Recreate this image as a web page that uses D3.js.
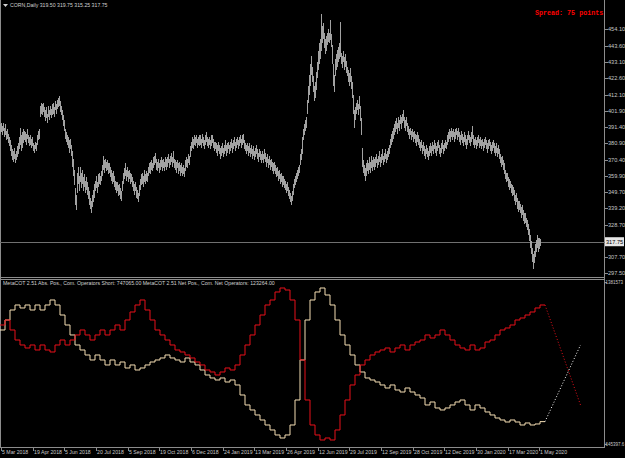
<!DOCTYPE html>
<html><head><meta charset="utf-8">
<script src="https://cdn.jsdelivr.net/npm/d3@7"></script>
<style>html,body{margin:0;padding:0;background:#000;overflow:hidden}svg{display:block}</style>
</head><body><svg id="c" width="625" height="458"></svg>
<script>
// ---- price bars (daily high / low), CORN Daily ----
const highs = [393,394,392,394,391,393,389,390,387,385,
383,380,377,376,378,374,376,379,381,385,
391,386,388,390,389,388,387,390,386,385,
386,384,385,381,380,382,381,386,389,390,
405,407,406,407,404,402,404,400,405,402,
405,403,406,407,404,408,406,409,410,411,
408,405,402,399,396,390,388,386,385,383,
384,380,376,371,364,352,348,362,366,360,
366,362,364,359,361,357,359,356,353,350,
346,344,348,351,355,357,360,356,361,362,
360,363,367,373,370,371,369,370,368,368,
366,364,362,363,360,357,356,356,354,355,
352,350,357,362,365,368,364,366,363,364,
362,361,359,357,355,356,353,351,349,354,
358,361,362,360,364,361,363,362,366,368,
369,370,368,372,373,375,371,369,371,368,
370,372,370,371,369,372,371,372,374,371,
373,375,372,376,371,370,369,370,368,369,
367,368,366,367,365,370,372,371,374,373,
379,382,385,384,386,385,386,384,385,386,
386,384,387,385,383,386,388,385,384,385,
383,386,386,384,382,382,381,380,382,380,
378,379,381,378,380,383,380,381,382,380,
382,384,381,383,385,382,384,385,383,385,
386,384,386,387,383,381,380,381,379,381,
378,380,377,379,376,378,380,377,375,377,
376,374,376,374,377,375,372,374,371,373,
370,371,369,368,369,367,365,366,363,364,
361,362,360,360,358,357,355,356,353,351,
349,347,350,355,358,360,362,364,366,367,
374,377,385,390,393,396,398,409,418,425,
432,437,430,424,418,420,427,433,440,445,
448,464,456,458,452,448,450,452,454,452,
460,451,444,432,425,435,438,441,443,445,
459,439,437,440,436,438,434,430,428,426,
429,424,420,412,402,404,407,409,406,411,
405,397,378,370,367,365,368,370,368,372,
369,373,370,372,371,372,374,371,373,376,
372,374,377,373,375,377,374,376,378,380,
384,387,389,391,393,395,397,394,398,396,
399,398,400,402,398,396,398,394,392,390,
391,389,390,388,389,387,386,388,386,384,
382,383,380,382,379,377,380,378,376,379,
381,379,382,380,383,381,379,382,383,380,
378,381,383,380,381,383,382,386,388,390,
389,391,389,390,388,390,391,389,391,388,
386,389,387,385,388,386,384,386,389,386,
385,388,392,386,384,385,383,385,386,384,
385,383,384,382,384,385,383,381,383,384,
382,380,382,383,381,379,381,378,380,377,
374,372,373,370,368,364,362,362,359,358,
357,355,354,353,351,348,349,346,344,344,
342,340,341,338,336,336,333,332,329,326,
322,318,314,310,312,316,319,322,320,320,319.75];
const lows = [387,388,386,389,385,386,383,384,381,379,
376,373,370,369,371,368,370,372,374,377,
380,376,378,381,383,382,380,384,381,379,
380,378,379,376,375,377,376,380,383,384,
398,400,399,401,398,395,397,394,398,396,
399,397,399,400,398,402,400,403,404,405,
401,399,396,392,389,384,382,380,378,375,
377,373,366,360,354,341,338,349,355,350,
356,352,355,350,353,349,351,348,345,341,
339,336,340,343,346,350,352,349,353,355,
354,357,360,364,362,365,363,364,361,362,
359,357,355,356,353,351,349,350,347,348,
345,344,350,355,358,360,357,359,356,358,
355,356,353,350,348,350,346,345,343,347,
351,354,355,353,356,355,357,356,360,362,
361,364,363,365,367,368,364,363,365,362,
364,366,363,365,363,366,364,366,368,365,
367,369,366,368,365,364,362,365,361,363,
360,362,360,361,359,363,366,365,368,367,
372,376,378,377,380,379,381,378,380,379,
380,378,381,379,377,380,382,379,378,380,
377,379,381,378,376,377,375,373,376,374,
371,373,375,372,374,376,373,375,377,374,
376,378,375,377,379,376,378,380,377,379,
381,378,380,381,377,376,374,376,373,375,
372,374,371,373,370,372,374,371,369,372,
370,368,370,368,371,369,366,368,365,367,
364,366,363,361,363,361,359,360,357,358,
355,356,353,354,352,351,349,350,347,345,
343,341,344,348,352,354,356,358,360,362,
367,370,374,383,386,389,391,400,407,412,
418,425,420,414,408,410,415,423,428,432,
435,440,445,448,442,438,440,444,446,445,
447,443,432,418,414,424,428,430,433,435,
436,432,429,433,428,430,426,424,420,418,
420,416,410,400,391,396,400,402,399,403,
395,386,366,362,360,357,360,363,361,364,
362,365,363,366,364,366,368,365,367,369,
366,368,370,367,369,371,368,370,372,374,
378,380,382,384,386,388,390,387,391,389,
393,390,394,395,391,389,392,388,386,384,
386,383,385,382,384,381,379,382,380,378,
376,378,374,376,373,371,374,372,370,373,
375,373,376,374,377,375,373,376,378,374,
372,375,377,374,376,378,377,380,382,384,
382,385,383,385,382,384,386,383,385,382,
380,383,381,379,382,380,377,380,383,381,
379,382,384,380,378,380,377,379,381,378,
379,377,379,376,378,380,377,375,377,379,
376,374,376,378,375,373,375,372,374,371,
368,366,367,364,361,358,356,357,353,351,
352,349,347,348,344,341,343,339,337,338,
336,333,335,331,329,330,327,325,322,318,
314,310,305,300,304,308,311,314,311,313,315.25];
const lastQuote = {open:319.50, high:319.75, low:315.25, close:317.75};

// ---- price axis labels ----
const priceTicks = [454.10,443.60,433.10,422.60,412.10,401.90,391.40,380.90,370.40,359.90,349.70,339.20,328.70,307.70,297.50];

// ---- MetaCOT weekly values (thousands of contracts) ----
const cotRed = [1186.2,1208.9,1163.5,1118.0,1095.3,1081.7,1095.3,1072.6,1095.3,1072.6,
1063.5,1095.3,1118.0,1095.3,1118.0,1140.8,1163.5,1140.8,1118.0,1140.8,
1163.5,1140.8,1163.5,1186.2,1163.5,1208.9,1245.3,1277.1,1299.8,1254.4,
1208.9,1163.5,1140.8,1118.0,1095.3,1072.6,1063.5,1049.9,1036.3,1018.1,
1004.5,981.7,972.6,959.0,972.6,990.8,981.7,1004.5,1049.9,1095.3,
1140.8,1186.2,1231.6,1277.1,1299.8,1336.2,1354.3,1345.2,1299.8,1208.9,
1027.2,845.4,731.8,686.4,663.6,672.7,663.6,709.1,777.3,845.4,
913.6,959.0,1004.5,1027.2,1049.9,1063.5,1072.6,1081.7,1063.5,1081.7,
1095.3,1072.6,1095.3,1108.9,1118.0,1140.8,1127.1,1140.8,1163.5,1140.8,
1118.0,1095.3,1081.7,1072.6,1095.3,1072.6,1081.7,1108.9,1118.0,1140.8,
1163.5,1172.6,1186.2,1208.9,1218.0,1231.6,1245.3,1263.5,1277.1];
const cotTan = [1163.5,1208.9,1254.4,1277.1,1263.5,1277.1,1254.4,1277.1,1254.4,1277.1,
1299.8,1277.1,1231.6,1186.2,1140.8,1095.3,1072.6,1049.9,1027.2,1049.9,
1027.2,1004.5,1027.2,1004.5,1018.1,990.8,1004.5,981.7,990.8,1004.5,
1018.1,1027.2,1036.3,1049.9,1036.3,1027.2,1018.1,1036.3,1018.1,1004.5,
981.7,959.0,945.4,936.3,945.4,927.2,936.3,913.6,868.1,822.7,
800.0,777.3,754.5,731.8,709.1,686.4,672.7,686.4,731.8,845.4,
1027.2,1208.9,1299.8,1336.2,1354.3,1322.5,1277.1,1208.9,1140.8,1095.3,
1049.9,1004.5,972.6,945.4,936.3,927.2,913.6,899.9,913.6,890.8,
881.7,899.9,881.7,868.1,854.5,822.7,836.3,809.1,800.0,809.1,
822.7,836.3,845.4,822.7,800.0,822.7,809.1,790.9,777.3,763.6,
754.5,745.4,754.5,745.4,731.8,740.9,731.8,736.4,747.065];
const projRed = 822.7, projTan = 1095.3, projBars = 35;
const barsPerWeek = 5;
const cotAxisLabels = ["1381573","645397.6"];
const cotDomain = [645.3976, 1381.573];

// ---- time axis ----
const dateLabels = ["5 Mar 2018","19 Apr 2018","5 Jun 2018","20 Jul 2018","5 Sep 2018","19 Oct 2018","6 Dec 2018","24 Jan 2019","13 Mar 2019","26 Apr 2019","12 Jun 2019","29 Jul 2019","12 Sep 2019","28 Oct 2019","12 Dec 2019","30 Jan 2020","17 Mar 2020","1 May 2020"];
const barsPerLabel = 31.66;

const titleText = "CORN,Daily 319.50 319.75 315.25 317.75";
const spreadText = "Spread: 75 points";
const cotTitle = "MetaCOT 2.51 Abs. Pos., Com. Operators Short: 747065.00  MetaCOT 2.51 Net Pos., Com. Net Operators: 123264.00";

// ================= drawing =================
const svg = d3.select("#c");
const FONT = "'Liberation Sans', Arial, sans-serif";
const axisCol = "#8c8c8c", textCol = "#c8c8c8";
const axisX = 604.5;

const x = d3.scaleLinear().domain([0, 1]).range([0.5, 1.5]);
const y = d3.scaleLinear().domain([295.1, 472.9]).range([277, 0]);
const y2 = d3.scaleLinear().domain(cotDomain).range([444, 282]);

svg.append("rect").attr("width",625).attr("height",458).attr("fill","#000");

// frame lines
const g = svg.append("g").attr("shape-rendering","crispEdges");
g.append("line").attr("x1",axisX).attr("x2",axisX).attr("y1",0).attr("y2",448).attr("stroke",axisCol);
g.append("line").attr("x1",0.5).attr("x2",0.5).attr("y1",0).attr("y2",448).attr("stroke",axisCol);
g.append("line").attr("x1",0).attr("x2",axisX).attr("y1",277.5).attr("y2",277.5).attr("stroke",axisCol);
g.append("line").attr("x1",0).attr("x2",axisX).attr("y1",279.5).attr("y2",279.5).attr("stroke",axisCol);
g.append("line").attr("x1",0).attr("x2",axisX).attr("y1",447.5).attr("y2",447.5).attr("stroke",axisCol);

// bid line
g.append("line").attr("x1",0).attr("x2",axisX).attr("y1",Math.round(y(lastQuote.close))+0.5).attr("y2",Math.round(y(lastQuote.close))+0.5).attr("stroke","#707070");

// price bars
svg.append("g").attr("shape-rendering","crispEdges").selectAll("line").data(highs).join("line")
  .attr("x1",(d,i)=>x(i)).attr("x2",(d,i)=>x(i))
  .attr("y1",d=>y(d)).attr("y2",(d,i)=>Math.max(y(lows[i]), y(d)+1))
  .attr("stroke","#a2a2a2").attr("stroke-width",1);

// price axis
const pa = svg.append("g");
pa.selectAll("line").data(priceTicks).join("line")
  .attr("x1",axisX).attr("x2",axisX+3).attr("y1",d=>Math.round(y(d))+0.5).attr("y2",d=>Math.round(y(d))+0.5)
  .attr("stroke",axisCol).attr("shape-rendering","crispEdges");
pa.selectAll("text").data(priceTicks).join("text")
  .attr("x",608).attr("y",d=>y(d)).attr("dy","0.35em")
  .attr("fill",textCol).attr("font-family",FONT).attr("font-size",5.6)
  .text(d=>d.toFixed(2));
// current price box
const cy = y(lastQuote.close);
pa.append("rect").attr("x",605).attr("y",cy-4.5).attr("width",19).attr("height",9).attr("fill","#e6e6e6");
pa.append("text").attr("x",606).attr("y",cy).attr("dy","0.35em").attr("fill","#000")
  .attr("font-family",FONT).attr("font-size",5.6).text(lastQuote.close.toFixed(2));

// COT lines
function stepPts(arr){
  const pts = arr.map((v,w)=>[x(w*barsPerWeek)-0.5, y2(v)]);
  pts.push([x(arr.length*barsPerWeek)-0.5, y2(arr[arr.length-1])]);
  return pts;
}
const stepLine = d3.line().curve(d3.curveStepAfter);
const redCol = "#e8101a", tanCol = "#f5deb3";
svg.append("path").attr("d",stepLine(stepPts(cotTan))).attr("fill","none").attr("stroke",tanCol).attr("stroke-width",1);
svg.append("path").attr("d",stepLine(stepPts(cotRed))).attr("fill","none").attr("stroke",redCol).attr("stroke-width",1);
const endBar = cotRed.length*barsPerWeek;
const plain = d3.line();
svg.append("path").attr("d",plain([[x(endBar)-0.5,y2(cotRed[cotRed.length-1])],[x(endBar+projBars),y2(projRed)]]))
  .attr("fill","none").attr("stroke",redCol).attr("stroke-dasharray","1,2");
svg.append("path").attr("d",plain([[x(endBar)-0.5,y2(cotTan[cotTan.length-1])],[x(endBar+projBars),y2(projTan)]]))
  .attr("fill","none").attr("stroke","#ffffff").attr("stroke-dasharray","1,2");

// COT axis
const ca = svg.append("g");
[[cotDomain[1],cotAxisLabels[0]],[cotDomain[0],cotAxisLabels[1]]].forEach(([v,t])=>{
  ca.append("line").attr("x1",axisX).attr("x2",axisX+2).attr("y1",Math.round(y2(v))+0.5).attr("y2",Math.round(y2(v))+0.5)
    .attr("stroke",axisCol).attr("shape-rendering","crispEdges");
  ca.append("text").attr("x",605.5).attr("y",y2(v)).attr("dy","0.35em").attr("fill",textCol)
    .attr("font-family",FONT).attr("font-size",4.5).text(t);
});

// time axis
const ta = svg.append("g");
dateLabels.forEach((lab,k)=>{
  const xi = x(Math.round(k*barsPerLabel));
  ta.append("line").attr("x1",Math.round(xi)+0.5).attr("x2",Math.round(xi)+0.5).attr("y1",447.5).attr("y2",450.5)
    .attr("stroke",axisCol).attr("shape-rendering","crispEdges");
  ta.append("text").attr("x",xi+1.5).attr("y",452).attr("dy","0.35em").attr("fill",textCol)
    .attr("font-family",FONT).attr("font-size",5.2).text(lab);
});

// titles
svg.append("path").attr("d","M3,4 L8,4 L5.5,7 Z").attr("fill","#d0d0d0");
svg.append("text").attr("x",10).attr("y",5.5).attr("dy","0.35em").attr("fill","#d0d0d0")
  .attr("font-family",FONT).attr("font-size",5.2).text(titleText);
svg.append("text").attr("x",535).attr("y",13).attr("dy","0.35em").attr("fill","#ff0000")
  .attr("font-family","'Liberation Mono','DejaVu Sans Mono',monospace").attr("font-weight","bold")
  .attr("font-size",6.7).text(spreadText);
svg.append("text").attr("x",3).attr("y",283.5).attr("dy","0.35em").attr("fill","#d0d0d0")
  .attr("font-family",FONT).attr("font-size",5.2).text(cotTitle);
</script>
</body></html>
